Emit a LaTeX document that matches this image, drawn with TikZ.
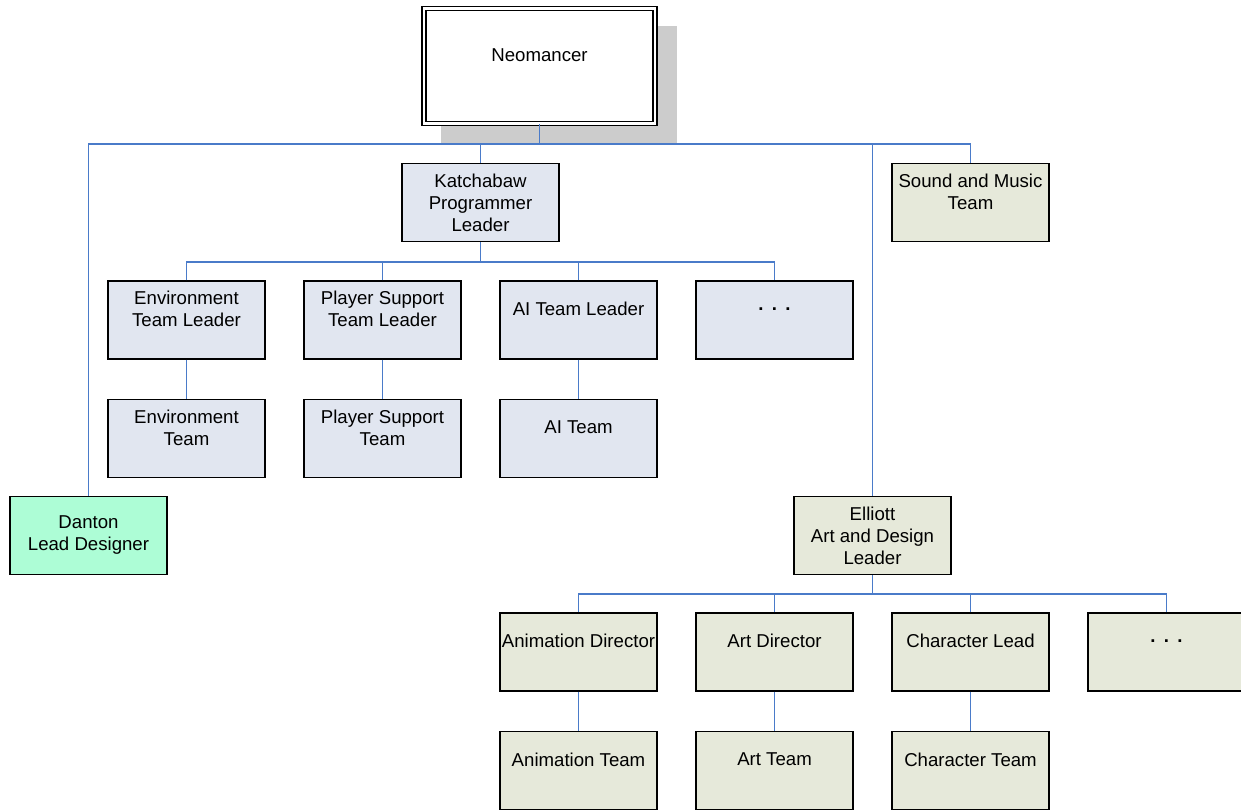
\documentclass[tikz,border=0pt]{standalone}
\usepackage{fontspec}
\setmainfont{Liberation Sans}
\usepackage{tikz}
\usetikzlibrary{positioning, calc}
\definecolor{progfill}{HTML}{E1E6F0}
\definecolor{artfill}{HTML}{E6E9DA}
\definecolor{leadfill}{HTML}{ADFDD6}
\definecolor{shadowgray}{HTML}{CCCCCC}
\definecolor{linkblue}{HTML}{4A7BC9}

\begin{document}
\begin{tikzpicture}[
    x=0.02cm, y=-0.02cm,
    font=\fontsize{10.6}{12.5}\selectfont,
    box/.style={rectangle, minimum width=3.14cm, minimum height=1.56cm, inner sep=1pt, align=center, draw=black, line width=0.8pt},
    progbox/.style={box, fill=progfill},
    artbox/.style={box, fill=artfill},
    leadbox/.style={box, fill=leadfill},
    topbox/.style={rectangle, minimum width=4.62cm, minimum height=2.3cm, align=center, draw=black, line width=0.95pt, double, double distance=1.2pt, fill=white},
    up/.style={text depth=12.5pt},
    link/.style={draw=linkblue, line width=1.1pt}
]
    \useasboundingbox (0,0) rectangle (1241,810);

    % shadow behind the top box
    \fill[shadowgray] (441,26) rectangle (677,143);

    \node[topbox, up] (neo) at (539.5,66) {Neomancer};

    \node[progbox] (kat) at (480.5,202.5) {Katchabaw\\Programmer\\Leader};
    \node[artbox, up] (snd) at (970.5,202.5) {Sound and Music\\Team};

    \node[progbox, up] (env) at (186.5,320) {Environment\\Team Leader};
    \node[progbox, up] (ps) at (382.5,320) {Player Support\\Team Leader};
    \node[progbox, up] (ai) at (578.5,320) {AI Team Leader};
    \node[progbox, up] (pdots) at (774.5,320) {\textbf{.\ \,.\ \,.}};

    \node[progbox, up, below=0.78cm of env] (envteam) {Environment\\Team};
    \node[progbox, up, below=0.78cm of ps] (psteam) {Player Support\\Team};
    \node[progbox, up, below=0.78cm of ai] (aiteam) {AI Team};

    \node[leadbox] (dan) at (88.5,535.5) {Danton\\Lead Designer};
    \node[artbox] (ell) at (872.5,535.5) {Elliott\\Art and Design\\Leader};

    \node[artbox, up] (anim) at (578.5,652) {Animation Director};
    \node[artbox, up] (artdir) at (774.5,652) {Art Director};
    \node[artbox, up] (charlead) at (970.5,652) {Character Lead};
    \node[artbox, up] (adots) at (1166.5,652) {\textbf{.\ \,.\ \,.}};

    \node[artbox, up, below=0.78cm of anim] (animteam) {Animation Team};
    \node[artbox, up, below=0.78cm of artdir] (artteam) {Art Team};
    \node[artbox, up, below=0.78cm of charlead] (charteam) {Character Team};

    \coordinate (topbus) at (0,144);
    \coordinate (progbus) at (0,262);
    \coordinate (artbus) at (0,594);

    % top level
    \draw[link] (neo.south) -- (neo.south |- topbus);
    \draw[link] (dan.north) -- (dan.north |- topbus) -| (snd.north);
    \draw[link] (kat.north) -- (kat.north |- topbus);
    \draw[link] (ell.north) -- (ell.north |- topbus);

    % programming
    \draw[link] (kat.south) -- (kat.south |- progbus);
    \draw[link] (env.north) -- (env.north |- progbus) -| (pdots.north);
    \foreach \n in {ps, ai}
        \draw[link] (\n.north) -- (\n.north |- progbus);
    \draw[link] (env) -- (envteam);
    \draw[link] (ps) -- (psteam);
    \draw[link] (ai) -- (aiteam);

    % art and design
    \draw[link] (ell.south) -- (ell.south |- artbus);
    \draw[link] (anim.north) -- (anim.north |- artbus) -| (adots.north);
    \foreach \n in {artdir, charlead}
        \draw[link] (\n.north) -- (\n.north |- artbus);
    \draw[link] (anim) -- (animteam);
    \draw[link] (artdir) -- (artteam);
    \draw[link] (charlead) -- (charteam);

\end{tikzpicture}
\end{document}
